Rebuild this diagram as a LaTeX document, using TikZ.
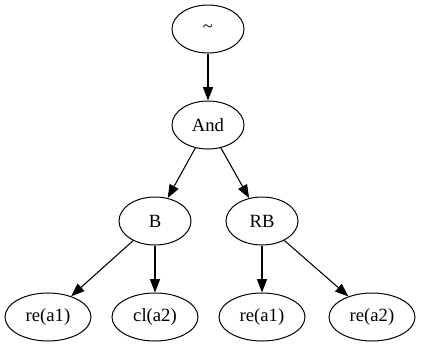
\documentclass[tikz,border=0pt]{standalone}
\usepackage{fontspec}
\setmainfont{Liberation Serif}
\usetikzlibrary{arrows.meta,shapes.geometric}
\begin{document}
\begin{tikzpicture}[x=0.75pt,y=-0.75pt,
  treenode/.style={draw,ellipse,line width=0.75pt,minimum width=54pt,minimum height=36pt,inner sep=0pt,font=\fontsize{14pt}{16pt}\selectfont},
  leafnode/.style={treenode,minimum width=64.5pt},
  edge/.style={draw,line width=0.8pt,-{Triangle[length=10pt,width=7.5pt]}}]
  \useasboundingbox (0,0) rectangle (421,347);
  \node[treenode] (neg) at (208,29) {\textasciitilde};
  \node[treenode] (and) at (208,125) {And};
  \node[treenode] (b) at (155,221) {B};
  \node[treenode] (rb) at (262,221) {RB};
  \node[leafnode] (l1) at (48,317) {re(a1)};
  \node[leafnode] (l2) at (155,317) {cl(a2)};
  \node[leafnode] (l3) at (262,317) {re(a1)};
  \node[leafnode] (l4) at (372,317) {re(a2)};
  \draw[edge] (neg) -- (and);
  \draw[edge] (and) -- (b);
  \draw[edge] (and) -- (rb);
  \draw[edge] (b) -- (l1);
  \draw[edge] (b) -- (l2);
  \draw[edge] (rb) -- (l3);
  \draw[edge] (rb) -- (l4);
\end{tikzpicture}
\end{document}
